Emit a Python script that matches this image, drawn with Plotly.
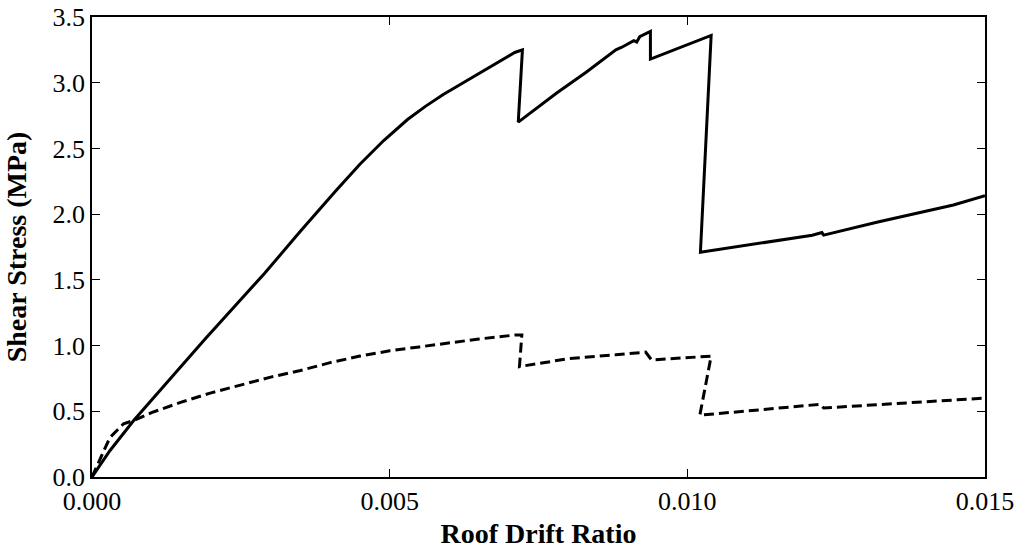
import plotly.graph_objects as go

# Roof drift ratio vs. shear stress, two response curves
drift_solid = [0, 0.0003, 0.0007, 0.0012, 0.0019, 0.0029, 0.0035, 0.0041, 0.0045,
               0.0049, 0.0053, 0.0056, 0.0059, 0.0062, 0.0065, 0.0068, 0.0071,
               0.00723, 0.00716, 0.0078, 0.0083, 0.0088, 0.0089, 0.0091, 0.00915,
               0.0092, 0.00938, 0.00938, 0.0104, 0.01022, 0.0114, 0.0121, 0.01226,
               0.01229, 0.0132, 0.01447, 0.015]
stress_solid = [0, 0.20, 0.43, 0.69, 1.05, 1.55, 1.87, 2.18, 2.38,
                2.56, 2.72, 2.82, 2.91, 2.99, 3.07, 3.15, 3.23,
                3.25, 2.70, 2.92, 3.08, 3.25, 3.27, 3.32, 3.31,
                3.35, 3.39, 3.18, 3.36, 1.71, 1.79, 1.84, 1.86,
                1.84, 1.94, 2.07, 2.14]

drift_dashed = [0, 0.0003, 0.00053, 0.0007, 0.001, 0.0015, 0.002, 0.0025, 0.003,
                0.0035, 0.004, 0.0045, 0.005, 0.0055, 0.006, 0.0065, 0.0071,
                0.00722, 0.00718, 0.008, 0.0088, 0.0091, 0.0093, 0.0094, 0.0104,
                0.01021, 0.0115, 0.01223, 0.01229, 0.015]
stress_dashed = [0, 0.30, 0.405, 0.43, 0.49, 0.57, 0.64, 0.70, 0.76,
                 0.81, 0.87, 0.92, 0.96, 0.99, 1.02, 1.05, 1.08,
                 1.08, 0.84, 0.90, 0.93, 0.94, 0.95, 0.89, 0.92,
                 0.47, 0.52, 0.553, 0.525, 0.60]

x_ticks = [0.0, 0.005, 0.010, 0.015]
y_ticks = [0.0, 0.5, 1.0, 1.5, 2.0, 2.5, 3.0, 3.5]

FONT = "Liberation Serif"

fig = go.Figure()
fig.add_trace(go.Scatter(x=drift_solid, y=stress_solid, mode="lines",
                         line=dict(color="black", width=3)))
fig.add_trace(go.Scatter(x=drift_dashed, y=stress_dashed, mode="lines",
                         line=dict(color="black", width=3, dash="10px,5px")))

axis_common = dict(showgrid=False, zeroline=False, showline=True, linecolor="black",
                   linewidth=1.5, mirror="ticks", ticks="inside", ticklen=8,
                   tickcolor="black", tickwidth=1, automargin=False,
                   tickfont=dict(family=FONT, size=26, color="black"))

fig.update_xaxes(range=[0, 0.015], tickvals=x_ticks, tickformat=".3f",
                 title=dict(text="<b>Roof Drift Ratio</b>", standoff=8,
                            font=dict(family=FONT, size=28, color="black")),
                 **axis_common)
fig.update_yaxes(range=[0, 3.5], tickvals=y_ticks, tickformat=".1f",
                 title=dict(text="<b>Shear Stress (MPa)</b>", standoff=18,
                            font=dict(family=FONT, size=28, color="black")),
                 **axis_common)

fig.update_layout(width=1020, height=549, showlegend=False,
                  plot_bgcolor="white", paper_bgcolor="white",
                  margin=dict(l=92, r=35, t=17, b=72))

fig.write_html("out.html")
